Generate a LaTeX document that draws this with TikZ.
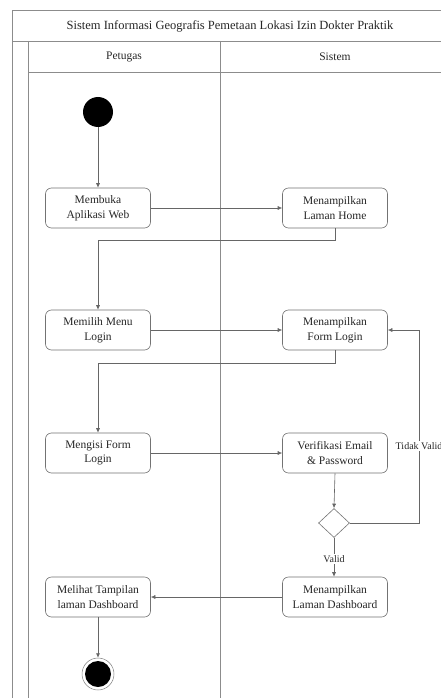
\documentclass[tikz,border=0pt]{standalone}
\usepackage{fontspec}
\setmainfont{Liberation Serif}
\usetikzlibrary{shapes.geometric,arrows.meta}
\begin{document}
\begin{tikzpicture}[x=1pt,y=-1pt,
  font=\fontsize{11.5}{14.5}\selectfont,
  frame/.style={draw=black!45,line width=0.8pt},
  head/.style={text=black!85},
  act/.style={draw=black!55,line width=0.6pt,rounded corners=6pt,
    minimum width=105pt,minimum height=40pt,align=center,inner sep=1pt,text=black!85},
  flow/.style={draw=black!60,line width=0.6pt,-{Latex[length=4.5pt,width=4pt]}},
  lbl/.style={fill=white,inner sep=1pt,text=black!85,font=\fontsize{10}{12}\selectfont},
  startdot/.style={circle,fill=black,minimum size=30pt,inner sep=0pt},
  enddot/.style={circle,draw=black!50,line width=0.5pt,fill=white,minimum size=32pt,inner sep=0pt},
  choice/.style={diamond,draw=black!55,line width=0.6pt,minimum width=31pt,minimum height=29pt,inner sep=0pt,aspect=1.1}]
\useasboundingbox (0,0) rectangle (441,698);
\clip (0,0) rectangle (441,698);
\fill[white] (0,0) rectangle (441,698);

% swimlane frame
\draw[frame] (12,700) -- (12,10) -- (460,10);
\draw[frame] (12,41) -- (460,41);
\draw[frame] (28,41) -- (28,700);
\draw[frame] (28,72) -- (460,72);
\draw[frame] (220,41) -- (220,700);

% headings
\node[head,font=\fontsize{12.5}{15}\selectfont] (title) at (230,26) {Sistem Informasi Geografis Pemetaan Lokasi Izin Dokter Praktik};
\node[head] (lanea) at (124,57) {Petugas};
\node[head] (laneb) at (335,57) {Sistem};

% activities
\node[startdot] (start) at (98,112) {};
\node[act] (buka)  at (98,208)  {Membuka\\Aplikasi Web};
\node[act] (home)  at (335,208) {Menampilkan\\Laman Home};
\node[act] (menu)  at (98,330)  {Memilih Menu\\Login};
\node[act] (form)  at (335,330) {Menampilkan\\Form Login};
\node[act] (isi)   at (98,453)  {Mengisi Form\\Login};
\node[act] (cek)   at (335,453) {Verifikasi Email\\\& Password};
\node[choice] (dia) at (334,523) {};
\node[act] (dash)  at (335,597) {Menampilkan\\Laman Dashboard};
\node[act] (lihat) at (98,597)  {Melihat Tampilan\\laman Dashboard};
\node[enddot] (stop) at (98,674) {};
\fill[black] (stop.center) circle (13pt);

% flows
\draw[flow] (start) -- (buka);
\draw[flow] (buka) -- (home);
\draw[flow] (home) -- ++(0,32) -| (menu);
\draw[flow] (menu) -- (form);
\draw[flow] (form) -- ++(0,33) -| (isi);
\draw[flow] (isi) -- (cek);
\draw[flow] (cek.south) -- (dia.north);
\draw[flow] (dia.east) -- ++(69,0) |- (form.east);
\node[lbl] (tidak) at (419,446) {Tidak Valid};
\draw[flow] (dia.south) -- (dia.south |- dash.north);
\node[lbl] (valid) at (334,559) {Valid};
\draw[flow] (dash) -- (lihat);
\draw[flow] (lihat) -- (stop);
\end{tikzpicture}
\end{document}
